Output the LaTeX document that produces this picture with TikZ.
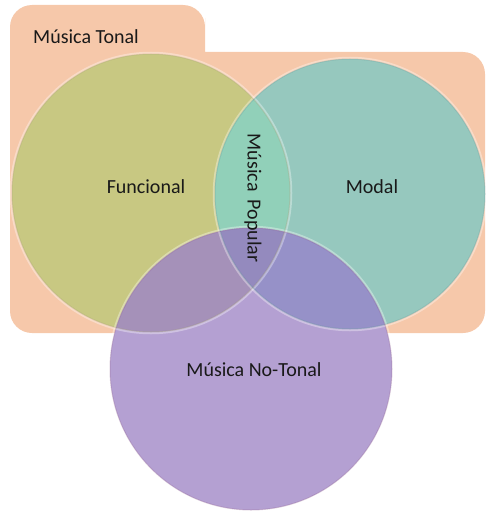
\documentclass[tikz,border=0pt]{standalone}
\usepackage{fontspec}
\setmainfont{Carlito}
\definecolor{tonalbg}{RGB}{246,200,170}
\definecolor{funcol}{RGB}{200,200,130}
\definecolor{modcol}{RGB}{150,200,190}
\definecolor{noncol}{RGB}{180,160,210}
\definecolor{popcol}{RGB}{145,208,185}
\definecolor{fncol}{RGB}{165,145,185}
\definecolor{mncol}{RGB}{150,145,200}
\definecolor{allcol}{RGB}{148,138,190}
\begin{document}
\begin{tikzpicture}[x=1pt,y=-1pt,
  lbl/.style={font=\fontsize{20}{24}\selectfont, text=black!90, inner sep=0pt},
  rim/.style={line width=1pt, opacity=0.2},
  glow/.style={line width=2.5pt, draw=white, opacity=0.35}]
\useasboundingbox (0,0) rectangle (486,511);
% background tab
\fill[tonalbg] (10,150) [rounded corners=22] -- (10,5) -- (205,5) -- (205,40) [sharp corners] -- (205,52) -- (300,52) [rounded corners=22] -- (485,52) -- (485,333) -- (10,333) -- cycle;
\coordinate (cf) at (151,193);
\coordinate (cm) at (350,194);
\coordinate (cn) at (251,369);
% base circles
\fill[funcol] (cf) circle[radius=139];
\fill[modcol] (cm) circle[radius=135];
\begin{scope}
  \clip (cf) circle[radius=139];
  \fill[popcol] (cm) circle[radius=135];
\end{scope}
\fill[noncol] (cn) circle[radius=141];
\begin{scope}
  \clip (cn) circle[radius=141];
  \fill[fncol] (cf) circle[radius=139];
  \fill[mncol] (cm) circle[radius=135];
  \clip (cf) circle[radius=139];
  \fill[allcol] (cm) circle[radius=135];
\end{scope}
% rims
\draw[glow] (cf) circle[radius=140];
\draw[glow] (cm) circle[radius=136];
\draw[glow] (cn) circle[radius=142];
\draw[rim, draw=olive!70!black] (cf) circle[radius=139];
\draw[rim, draw=teal!70!black] (cm) circle[radius=135];
\draw[rim, draw=violet!60!black] (cn) circle[radius=141];
% labels
\node[lbl, anchor=west] (tonal) at (33,37) {Música Tonal};
\node[lbl] (func) at (146,187) {Funcional};
\node[lbl] (modal) at (372,187) {Modal};
\node[lbl, rotate=-90] (pop) at (253,198) {Música\, Popular};
\node[lbl] (non) at (254,370) {Música No-Tonal};
\end{tikzpicture}
\end{document}
